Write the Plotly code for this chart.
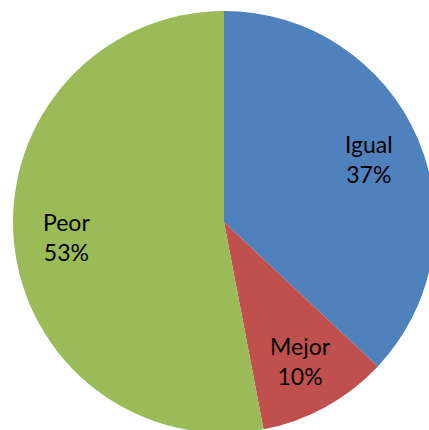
import math
import plotly.graph_objects as go

labels = ["Igual", "Mejor", "Peor"]
values = [37, 10, 53]
colors = ["#4F81BD", "#C0504D", "#9BBB59"]

R = 211
CX, CY = 224, 222
LABEL_FRAC = 0.75

fig = go.Figure(go.Pie(
    labels=labels,
    values=values,
    sort=False,
    direction="clockwise",
    rotation=0,
    marker=dict(colors=colors, line=dict(width=0)),
    textinfo="none",
    hoverinfo="label+percent",
    showlegend=False,
))

# data labels placed on each slice's bisector (computed from values)
total = sum(values)
cum = 0
for lab, v in zip(labels, values):
    mid = (cum + v / 2) / total * 2 * math.pi
    cum += v
    x = 0.5 + 0.5 * LABEL_FRAC * math.sin(mid)
    y = 0.5 + 0.5 * LABEL_FRAC * math.cos(mid)
    fig.add_annotation(
        x=x, y=y, xref="paper", yref="paper",
        text=f"{lab}<br>{round(v / total * 100)}%",
        showarrow=False, xanchor="center", yanchor="middle",
        font=dict(family="Lato", size=23, color="black"),
    )

fig.update_layout(
    width=CX + R,
    height=CY + R,
    margin=dict(l=CX - R, t=CY - R, r=0, b=0, pad=0, autoexpand=False),
    paper_bgcolor="white",
    plot_bgcolor="white",
)

fig.write_html(
    "out.html",
    config={"displayModeBar": False},
    post_script="document.body.style.margin='0';document.body.style.overflow='hidden';document.documentElement.style.overflow='hidden';",
)
